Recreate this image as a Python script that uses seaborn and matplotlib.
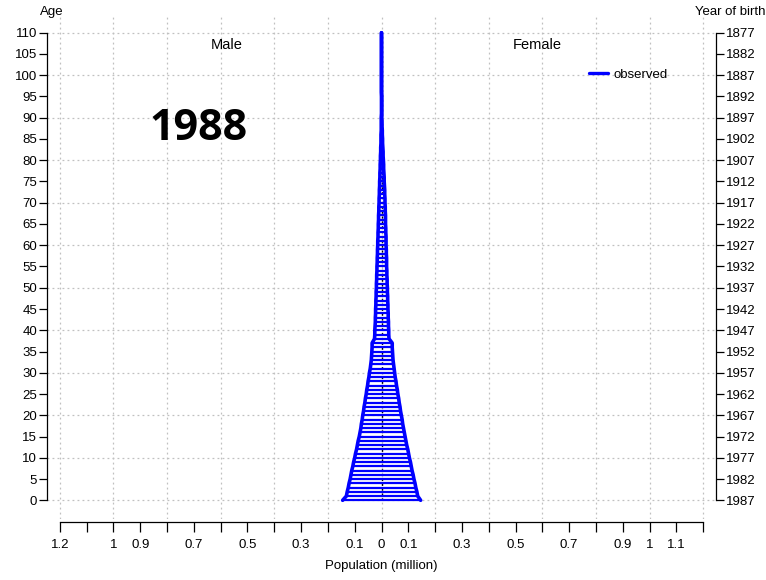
import numpy as np
import pandas as pd
import matplotlib
matplotlib.use("Agg")
import matplotlib.pyplot as plt
from matplotlib.lines import Line2D
import seaborn as sns

# ---------------- data (population in millions) ----------------
ages = list(range(0, 111))
male = [0.145, 0.131, 0.128, 0.124, 0.121, 0.117, 0.114, 0.111, 0.107, 0.104,
        0.100, 0.097, 0.093, 0.090, 0.087, 0.083, 0.080, 0.077, 0.075, 0.072,
        0.070, 0.067, 0.065, 0.062, 0.060, 0.057, 0.055, 0.052, 0.050, 0.047,
        0.045, 0.042, 0.040, 0.038, 0.037, 0.036, 0.035, 0.035, 0.026, 0.025,
        0.025, 0.024, 0.023, 0.023, 0.022, 0.022, 0.021, 0.021, 0.020, 0.020,
        0.019, 0.019, 0.018, 0.018, 0.017, 0.017, 0.016, 0.016, 0.015, 0.015,
        0.014, 0.014, 0.013, 0.013, 0.012, 0.012, 0.011, 0.011, 0.010, 0.010,
        0.009, 0.009, 0.008, 0.008, 0.007, 0.007, 0.006, 0.006, 0.005, 0.005,
        0.004, 0.004, 0.003, 0.003, 0.002, 0.002, 0.002, 0.001, 0.001, 0.001,
        0.001, 0.0, 0.0, 0.0, 0.0, 0.0, 0.0, 0.0, 0.0, 0.0,
        0.0, 0.0, 0.0, 0.0, 0.0, 0.0, 0.0, 0.0, 0.0, 0.0, 0.0]
female = [0.146, 0.135, 0.132, 0.128, 0.125, 0.121, 0.118, 0.114, 0.111, 0.108,
          0.104, 0.101, 0.098, 0.094, 0.091, 0.088, 0.085, 0.082, 0.079, 0.077,
          0.074, 0.071, 0.069, 0.066, 0.064, 0.061, 0.059, 0.056, 0.054, 0.051,
          0.049, 0.047, 0.045, 0.043, 0.042, 0.041, 0.040, 0.040, 0.028, 0.027,
          0.027, 0.026, 0.026, 0.025, 0.025, 0.024, 0.024, 0.023, 0.023, 0.022,
          0.022, 0.021, 0.021, 0.020, 0.020, 0.019, 0.019, 0.019, 0.018, 0.018,
          0.017, 0.017, 0.017, 0.016, 0.016, 0.015, 0.015, 0.015, 0.014, 0.014,
          0.013, 0.013, 0.012, 0.012, 0.011, 0.010, 0.010, 0.009, 0.008, 0.008,
          0.007, 0.006, 0.006, 0.005, 0.004, 0.004, 0.003, 0.003, 0.002, 0.002,
          0.001, 0.001, 0.001, 0.001, 0.001, 0.001, 0.0, 0.0, 0.0, 0.0,
          0.0, 0.0, 0.0, 0.0, 0.0, 0.0, 0.0, 0.0, 0.0, 0.0, 0.0]

age_ticks = [0, 5, 10, 15, 20, 25, 30, 35, 40, 45, 50, 55, 60, 65, 70, 75,
             80, 85, 90, 95, 100, 105, 110]
birth_labels = ["1987", "1982", "1977", "1972", "1967", "1962", "1957", "1952",
                "1947", "1942", "1937", "1932", "1927", "1922", "1917", "1912",
                "1907", "1902", "1897", "1892", "1887", "1882", "1877"]
x_ticks = [-1.2, -1.1, -1.0, -0.9, -0.8, -0.7, -0.6, -0.5, -0.4, -0.3, -0.2,
           -0.1, 0.0, 0.1, 0.2, 0.3, 0.4, 0.5, 0.6, 0.7, 0.8, 0.9, 1.0, 1.1, 1.2]
x_labels = ["1.2", "", "1", "0.9", "", "0.7", "", "0.5", "", "0.3", "",
            "0.1", "0", "0.1", "", "0.3", "", "0.5", "", "0.7", "", "0.9",
            "1", "1.1", ""]
grid_x = [-1.2, -1.0, -0.8, -0.6, -0.4, -0.2, 0.0, 0.2, 0.4, 0.6, 0.8, 1.0, 1.2]
grid_y = [0, 10, 20, 30, 40, 50, 60, 70, 80, 90, 100, 110]
year_label = "1988"

df = pd.DataFrame({"age": ages, "male": male, "female": female})
df["male_neg"] = -df["male"]

# ---------------- styling ----------------
sns.set_theme(style="white")
plt.rcParams["font.family"] = ["Liberation Sans", "DejaVu Sans"]
plt.rcParams["text.color"] = "black"
plt.rcParams["axes.labelcolor"] = "black"
plt.rcParams["xtick.color"] = "black"
plt.rcParams["ytick.color"] = "black"
BLUE = "#0000FF"
GRID = "#c0c0c0"

W, H = 766, 580
fig = plt.figure(figsize=(W / 100, H / 100), dpi=100)
ax = fig.add_axes([47 / W, 1 - 519 / H, (716 - 47) / W, (519 - 14) / H])
ax.set_xlim(-1.248, 1.248)
ax.set_ylim(-4.4, 114.4)

# grid
for gx in grid_x:
    ax.axvline(gx, color=GRID, lw=0.9, ls=(0, (1.5, 2.5)), zorder=0)
for gy in grid_y:
    ax.axhline(gy, color=GRID, lw=0.9, ls=(0, (1.5, 2.5)), zorder=0)

# centre line
ax.vlines(0, df["age"].min(), df["age"].max(), color="black", lw=1.0,
          ls=(0, (1.5, 2)), zorder=1)

# horizontal bars per age
ax.hlines(df["age"], df["male_neg"], df["female"], color=BLUE, lw=1.6, zorder=2)

# outline
sns.lineplot(data=df, x="male_neg", y="age", orient="y", sort=False,
             estimator=None, color=BLUE, lw=2.6, ax=ax, zorder=3)
sns.lineplot(data=df, x="female", y="age", orient="y", sort=False,
             estimator=None, color=BLUE, lw=2.6, ax=ax, zorder=3)
ax.set_xlabel("")
ax.set_ylabel("")

# spines / ticks
for s in ["top", "right"]:
    ax.spines[s].set_visible(False)
ax.spines["left"].set_bounds(0, 110)
ax.spines["bottom"].set_bounds(-1.2, 1.2)
ax.spines["bottom"].set_position(("outward", 2))
for s in ["left", "bottom"]:
    ax.spines[s].set_color("black")
    ax.spines[s].set_linewidth(0.9)

ax.set_xticks(x_ticks)
ax.set_xticklabels(x_labels)
ax.set_yticks(age_ticks)
ax.set_yticklabels([str(a) for a in age_ticks])
ax.tick_params(axis="x", direction="out", length=7.2, width=0.9, pad=5.5,
               labelsize=9.5, colors="black", bottom=True)
ax.tick_params(axis="y", direction="out", length=5.5, width=0.9, pad=1.5,
               labelsize=9.5, colors="black", left=True)

ax2 = ax.twinx()
ax2.set_ylim(ax.get_ylim())
for s in ["top", "left", "bottom"]:
    ax2.spines[s].set_visible(False)
ax2.spines["right"].set_bounds(0, 110)
ax2.spines["right"].set_color("black")
ax2.spines["right"].set_linewidth(0.9)
ax2.set_yticks(age_ticks)
ax2.set_yticklabels(birth_labels)
ax2.tick_params(axis="y", direction="out", length=6, width=0.9, pad=1.0,
                labelsize=9.5, colors="black", right=True)
ax2.grid(False)

# texts
fig.text(381 / W, 1 - 566 / H, "Population (million)", ha="center", va="center",
         fontsize=9.5, color="black")
fig.text(52 / W, 1 - 12 / H, "Age", ha="center", va="center", fontsize=9.5,
         color="black")
fig.text(695 / W, 1 - 12 / H, "Year of birth", ha="left", va="center",
         fontsize=9.5, color="black")
fig.text(227 / W, 1 - 45 / H, "Male", ha="center", va="center", fontsize=10.5,
         color="black")
fig.text(537 / W, 1 - 45 / H, "Female", ha="center", va="center", fontsize=10.5,
         color="black")
fig.text(198 / W, 1 - 128 / H, year_label, ha="center", va="center",
         fontsize=31, fontweight="bold", color="black",
         family=["Open Sans", "DejaVu Sans"])

handle = Line2D([], [], color=BLUE, lw=2.4)
leg = fig.legend([handle], ["observed"], loc="center left",
                 bbox_to_anchor=(589 / W, 1 - 75 / H), frameon=False,
                 fontsize=9.5, handlelength=1.45, handletextpad=0.4,
                 borderaxespad=0, borderpad=0)
for t in leg.get_texts():
    t.set_color("black")

fig.savefig("out.png", dpi=100)
